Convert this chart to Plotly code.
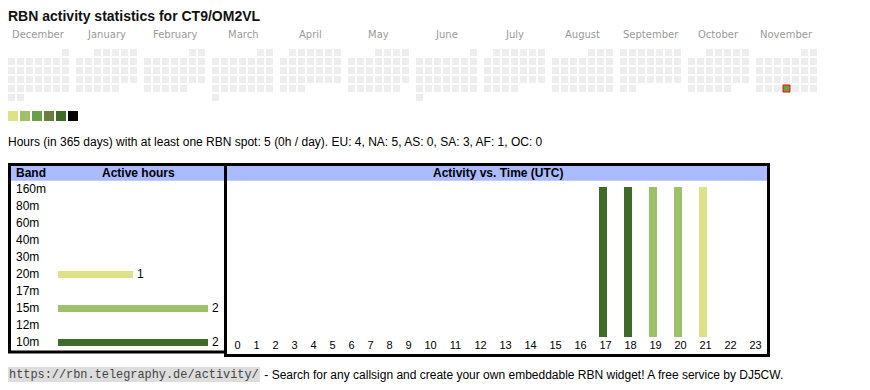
import datetime as dt
import plotly.graph_objects as go

# ---------------- data ----------------
TITLE = "RBN activity statistics for CT9/OM2VL"
MONTHS = ["December", "January", "February", "March", "April", "May", "June",
          "July", "August", "September", "October", "November"]
CAL_START = "2024-12-01"
CAL_END = "2025-11-30"
TODAY = "2025-11-27"
ACTIVE_DAYS = ["2025-11-27"]
ACTIVE_DAY_HOURS = [5]
LEVEL_LIMITS = [2, 4, 8, 12, 16, 24]          # upper bound of hours/day per colour level

SUMMARY = ("Hours (in 365 days) with at least one RBN spot: 5 (0h / day). "
           "EU: 4, NA: 5, AS: 0, SA: 3, AF: 1, OC: 0")

BANDS = ["160m", "80m", "60m", "40m", "30m", "20m", "17m", "15m", "12m", "10m"]
BAND_HOURS = [0, 0, 0, 0, 0, 1, 0, 2, 0, 2]

HOURS = list(range(24))
ACTIVE_HOURS = [17, 18, 19, 20, 21]
ACTIVE_HOUR_BANDS = ["10m", "10m", "15m", "15m", "20m"]
ACTIVE_HOUR_COUNTS = [1, 1, 1, 1, 1]

FOOTER_URL = "https://rbn.telegraphy.de/activity/"
FOOTER_TEXT = (" - Search for any callsign and create your own embeddable RBN widget! "
               "A free service by DJ5CW.")

# ---------------- styles ----------------
LEVEL_COLORS = ["#dbe28a", "#9dc06a", "#6aa047", "#6a7f3d", "#3e6a2a", "#000000"]
BAND_COLORS = {"160m": "#000000", "80m": "#000000", "60m": "#000000", "40m": "#000000",
               "30m": "#000000", "20m": "#dbe28a", "17m": "#6aa047", "15m": "#9dc06a",
               "12m": "#6a7f3d", "10m": "#3e6a2a"}
EMPTY = "#eeeeee"
HEADER_BG = "#aabbff"
SANS = "Liberation Sans, Arial, sans-serif"

# the page body has an 8px margin: the figure starts at (8, 8) in the window
OFF = 8
W, H = 854, 374
def px(x): return (x - OFF) / W
def py(y): return 1 - (y - OFF) / H
PADX = 2   # annotation text inset (borderpad + borderwidth)

# calendar geometry (window pixels)
CELL = 9
MONTH_GAP_PX = 68
CAL_X0, CAL_Y0 = 11.5, 52.5
STRIDE = MONTH_GAP_PX / CELL

fig = go.Figure()

# ---------------- calendar ----------------
start = dt.date.fromisoformat(CAL_START)
end = dt.date.fromisoformat(CAL_END)
active = {dt.date.fromisoformat(d): h for d, h in zip(ACTIVE_DAYS, ACTIVE_DAY_HOURS)}
month_keys = []
d = start
while d <= end:
    if (d.year, d.month) not in month_keys:
        month_keys.append((d.year, d.month))
    d += dt.timedelta(days=1)

gx, gy, cols, texts = [], [], [], []
t_idx = None
d = start
while d <= end:
    m = month_keys.index((d.year, d.month))
    first = d.replace(day=1)
    col = d.weekday()
    row = (d.day - 1 + first.weekday()) // 7
    gx.append(m * STRIDE + col); gy.append(row)
    h = active.get(d, 0)
    if h > 0:
        lvl = next(i for i, lim in enumerate(LEVEL_LIMITS) if h <= lim)
        cols.append(LEVEL_COLORS[lvl])
    else:
        cols.append(EMPTY)
    texts.append(f"{d.isoformat()}: {h}h")
    if d.isoformat() == TODAY:
        t_idx = len(gx) - 1
    d += dt.timedelta(days=1)

fig.add_trace(go.Scatter(x=gx, y=gy, mode="markers", xaxis="x", yaxis="y",
                         marker=dict(symbol="square", size=7, color=cols, line=dict(width=0)),
                         text=texts, hoverinfo="text"))
if t_idx is not None:
    fig.add_trace(go.Scatter(x=[gx[t_idx]], y=[gy[t_idx]], mode="markers", xaxis="x", yaxis="y",
                             marker=dict(symbol="square", size=7, color=cols[t_idx],
                                         line=dict(width=1, color="#ff0000")),
                             hoverinfo="skip"))

# colour-level legend squares
LEG_Y_PX, LEG_X0_PX, LEG_STEP_PX = 116, 13, 12
fig.add_trace(go.Scatter(
    x=[(LEG_X0_PX + i * LEG_STEP_PX - CAL_X0) / CELL for i in range(len(LEVEL_COLORS))],
    y=[(LEG_Y_PX - CAL_Y0) / CELL] * len(LEVEL_COLORS),
    mode="markers", xaxis="x", yaxis="y", hoverinfo="skip",
    marker=dict(symbol="square", size=10, color=LEVEL_COLORS, line=dict(width=0))))

annotations = []
for m, name in enumerate(MONTHS):
    annotations.append(dict(x=m * STRIDE + 3, y=py(35), xref="x", yref="paper",
                            text=name, showarrow=False, xanchor="center", yanchor="middle",
                            font=dict(family="DejaVu Sans, Verdana", size=10, color="#9a9a9a")))

# ---------------- band table ----------------
band_colors = [BAND_COLORS[b] for b in BANDS]
fig.add_trace(go.Bar(x=BAND_HOURS, y=BANDS, orientation="h", xaxis="x2", yaxis="y2",
                     marker=dict(color=band_colors, line=dict(width=0)), width=0.41,
                     hoverinfo="x+y"))
for b, v in zip(BANDS, BAND_HOURS):
    annotations.append(dict(x=px(16 - PADX), y=b, xref="paper", yref="y2", text=b,
                            showarrow=False, xanchor="left", yanchor="middle",
                            font=dict(family=SANS, size=12, color="#000")))
    if v > 0:
        annotations.append(dict(x=v, y=b, xref="x2", yref="y2", text=str(v), showarrow=False,
                                xanchor="left", yanchor="middle", xshift=2,
                                font=dict(family=SANS, size=12, color="#000")))

# ---------------- activity vs time ----------------
HOUR_X0 = 228
centers, left = [], HOUR_X0
for h in HOURS:
    w = 19 if h < 10 else 25
    centers.append(left + w / 2)
    left += w
bar_x = [centers[h] for h in ACTIVE_HOURS]
bar_c = [BAND_COLORS[b] for b in ACTIVE_HOUR_BANDS]
fig.add_trace(go.Bar(x=bar_x, y=ACTIVE_HOUR_COUNTS, xaxis="x3", yaxis="y3",
                     marker=dict(color=bar_c, line=dict(width=0)), width=8, offset=-6.5,
                     text=[f"{h} UTC" for h in ACTIVE_HOURS], hoverinfo="text",
                     textposition="none"))

# ---------------- text ----------------
annotations += [
    dict(x=px(8 - PADX), y=py(16), xref="paper", yref="paper", text=f"<b>{TITLE}</b>",
         showarrow=False, xanchor="left", yanchor="middle",
         font=dict(family=SANS, size=14, color="#111")),
    dict(x=px(8 - PADX), y=py(142), xref="paper", yref="paper", text=SUMMARY,
         showarrow=False, xanchor="left", yanchor="middle",
         font=dict(family=SANS, size=12, color="#000")),
    dict(x=px(31), y=py(173), xref="paper", yref="paper", text="<b>Band</b>",
         showarrow=False, xanchor="center", yanchor="middle",
         font=dict(family=SANS, size=12, color="#000")),
    dict(x=px(138), y=py(173), xref="paper", yref="paper", text="<b>Active hours</b>",
         showarrow=False, xanchor="center", yanchor="middle",
         font=dict(family=SANS, size=12, color="#000")),
    dict(x=px(498), y=py(173), xref="paper", yref="paper", text="<b>Activity vs. Time (UTC)</b>",
         showarrow=False, xanchor="center", yanchor="middle",
         font=dict(family=SANS, size=12, color="#000")),
    dict(x=px(8), y=py(374.5), xref="paper", yref="paper", text=FOOTER_URL,
         showarrow=False, xanchor="left", yanchor="middle", bgcolor="#dddddd",
         borderpad=1, borderwidth=0,
         font=dict(family="Liberation Mono, DejaVu Sans Mono, monospace", size=11.9, color="#444")),
    dict(x=px(261 - PADX), y=py(374.5), xref="paper", yref="paper", text=FOOTER_TEXT,
         showarrow=False, xanchor="left", yanchor="middle",
         font=dict(family=SANS, size=12, color="#000")),
]

shapes = [
    dict(type="rect", xref="paper", yref="paper", x0=px(11), x1=px(224), y0=py(180.8), y1=py(166),
         fillcolor=HEADER_BG, line=dict(width=0), layer="below"),
    dict(type="rect", xref="paper", yref="paper", x0=px(227), x1=px(767), y0=py(180.8), y1=py(166),
         fillcolor=HEADER_BG, line=dict(width=0), layer="below"),
    dict(type="rect", xref="paper", yref="paper", x0=px(9.5), x1=px(225.5), y0=py(352), y1=py(164.5),
         line=dict(width=3, color="#000"), fillcolor="rgba(0,0,0,0)"),
    dict(type="rect", xref="paper", yref="paper", x0=px(225.5), x1=px(768.5), y0=py(355.5), y1=py(164.5),
         line=dict(width=3, color="#000"), fillcolor="rgba(0,0,0,0)"),
]

hidden = dict(showgrid=False, zeroline=False, showticklabels=False, showline=False, ticks="")

fig.update_layout(
    width=W, height=H, margin=dict(l=0, r=0, t=0, b=0),
    paper_bgcolor="white", plot_bgcolor="rgba(0,0,0,0)", showlegend=False,
    bargap=0,
    xaxis=dict(domain=[0, 1], range=[(OFF - CAL_X0) / CELL, (OFF + W - CAL_X0) / CELL], **hidden),
    yaxis=dict(domain=[0, 1], range=[(OFF + H - CAL_Y0) / CELL, (OFF - CAL_Y0) / CELL], **hidden),
    xaxis2=dict(domain=[px(58), px(208)], range=[0, max(BAND_HOURS)], anchor="y2", **hidden),
    yaxis2=dict(domain=[py(350.8), py(180.8)], type="category", categoryorder="array",
                categoryarray=BANDS, range=[len(BANDS) - 0.5, -0.5], anchor="x2", **hidden),
    xaxis3=dict(domain=[px(HOUR_X0), px(left)], range=[HOUR_X0, left], anchor="y3",
                tickmode="array", tickvals=centers, ticktext=[str(h) for h in HOURS],
                showgrid=False, zeroline=False, showline=False, ticks="",
                tickfont=dict(family=SANS, size=11, color="#000")),
    yaxis3=dict(domain=[py(337), py(187)], range=[0, max(ACTIVE_HOUR_COUNTS)], anchor="x3", **hidden),
    annotations=annotations, shapes=shapes,
)

fig.write_html("out.html")
